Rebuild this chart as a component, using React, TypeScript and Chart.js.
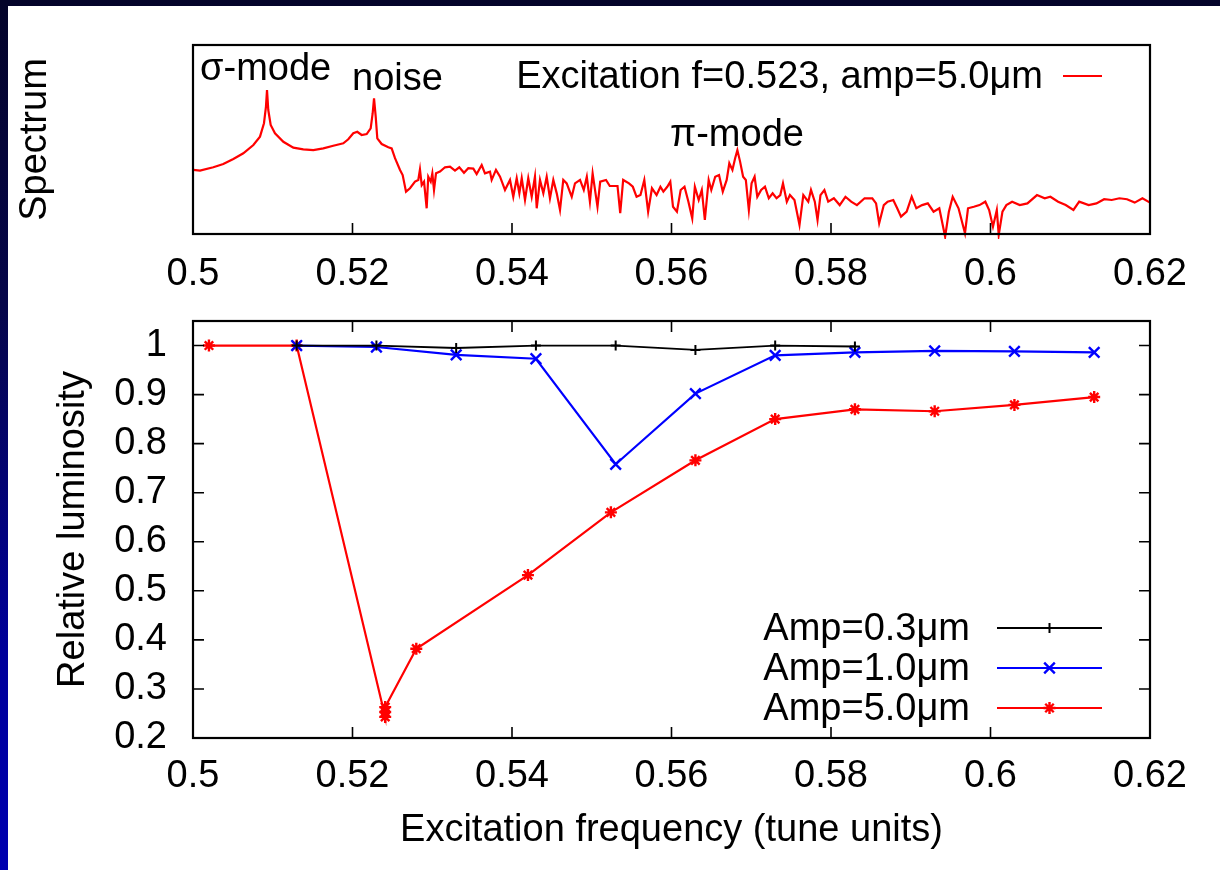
import React, { useEffect, useRef } from "react";
import { Chart, registerables } from "chart.js";
Chart.register(...registerables);

const FONT = '"Liberation Sans", Arial, Helvetica, sans-serif';
const FS = 38;

const xTickValues = [0.5, 0.52, 0.54, 0.56, 0.58, 0.6, 0.62];
const lumTickValues = [0.2, 0.3, 0.4, 0.5, 0.6, 0.7, 0.8, 0.9, 1];

// Spectrum (arbitrary units, 0 = bottom of panel, 100 = top)
const spectrumFreq = [
  0.50004, 0.50088, 0.50255, 0.5038, 0.50506, 0.50631, 0.50757, 0.5084, 0.5089, 0.50915,
  0.50928, 0.50944, 0.50974, 0.51028, 0.51133, 0.51258, 0.51383, 0.51509, 0.51634, 0.51759,
  0.51885, 0.51947, 0.5201, 0.5206, 0.52115, 0.52178, 0.52228, 0.52253, 0.5227, 0.52291,
  0.52311, 0.52366, 0.52449, 0.52491, 0.52533, 0.52596, 0.52629, 0.52671, 0.52721, 0.52784,
  0.52825, 0.52846, 0.52868, 0.52897, 0.5293, 0.5295, 0.52981, 0.53001, 0.53022, 0.53047,
  0.53097, 0.5316, 0.53223, 0.53285, 0.53339, 0.53398, 0.53452, 0.53515, 0.53557, 0.5362,
  0.53661, 0.53724, 0.53745, 0.53799, 0.5385, 0.53912, 0.53975, 0.54016, 0.54059, 0.54092,
  0.54122, 0.54163, 0.54204, 0.54247, 0.54288, 0.5431, 0.54351, 0.54393, 0.54435, 0.54476,
  0.54518, 0.54561, 0.54602, 0.54643, 0.54686, 0.54749, 0.5479, 0.54853,
  0.549, 0.54938, 0.54977, 0.55011, 0.55072, 0.55106, 0.55179, 0.55226, 0.55323, 0.55357,
  0.55394, 0.55467, 0.55515, 0.55562, 0.55611, 0.55659, 0.55707, 0.55755, 0.55813, 0.55861,
  0.55898, 0.55947, 0.55985, 0.56019, 0.56068, 0.56115, 0.56163, 0.56212, 0.5626, 0.56293,
  0.56341, 0.5638, 0.56418, 0.56466, 0.56499, 0.56548, 0.56596, 0.56643, 0.56692, 0.56725,
  0.56764, 0.56798, 0.56826, 0.5686, 0.56898, 0.56932, 0.5697, 0.57004, 0.57042, 0.57076,
  0.57124, 0.57172, 0.5722, 0.57268, 0.57317, 0.57364, 0.57398, 0.57446, 0.57485, 0.57542,
  0.57605, 0.57653, 0.57715, 0.57749, 0.57797, 0.57831, 0.57868, 0.57917, 0.57965, 0.58036,
  0.58109, 0.58181, 0.58253, 0.58325, 0.58421, 0.58518, 0.58565, 0.58604, 0.58662, 0.5871,
  0.58781, 0.5883, 0.58878, 0.58949, 0.59012, 0.5907, 0.59142, 0.59214, 0.59286, 0.59358,
  0.59431, 0.59478, 0.59526, 0.59599, 0.5968, 0.59718, 0.59791, 0.59862, 0.59935, 0.59983,
  0.60031, 0.60079, 0.60103, 0.6015, 0.60199, 0.60271, 0.60367, 0.60463, 0.60583, 0.6068,
  0.60751, 0.60848, 0.60943, 0.6104, 0.61112, 0.61231, 0.61328, 0.61425, 0.6152, 0.61616,
  0.61712, 0.61808, 0.61905, 0.62,
];
const spectrumLevel = [
  33.9, 33.5, 35.3, 37.0, 39.7, 42.7, 47.1, 51.5, 58.6, 67.4,
  76.2, 65.6, 57.7, 53.3, 48.8, 45.7, 44.8, 44.4, 45.3, 46.7,
  48.0, 50.1, 53.3, 54.1, 52.4, 52.9, 55.9, 63.9, 71.8, 62.1,
  50.6, 47.6, 45.9, 45.3, 40.1, 33.9, 31.2, 22.4, 24.2, 27.7,
  28.6, 34.2, 25.9, 27.7, 13.6, 30.3, 27.7, 32.1, 23.3, 32.1,
  33.0, 35.3, 35.6, 33.5, 35.3, 32.4, 34.8, 34.6, 31.7, 36.5,
  32.1, 33.0, 28.6, 33.9, 30.3, 23.3, 28.6, 19.7, 29.5, 21.5,
  29.5, 18.0, 29.5, 19.7, 30.3, 13.6, 28.6, 21.5, 30.3, 18.9,
  28.6, 21.5, 12.7, 28.6, 26.8, 19.7, 26.8, 28.6,
  23.3, 30.3, 17.1, 32.1, 14.4, 27.7, 28.6, 25.4, 25.4, 11.0,
  28.6, 26.8, 25.0, 19.7, 20.6, 28.6, 11.8, 24.2, 20.6, 25.0,
  22.4, 25.0, 27.7, 14.4, 11.8, 23.3, 25.0, 17.1, 8.3, 25.0,
  18.0, 23.3, 7.4, 28.6, 23.3, 30.3, 31.2, 22.4, 28.6, 37.4,
  33.9, 40.1, 44.4, 38.3, 30.3, 28.6, 12.7, 26.8, 30.3, 19.7,
  23.3, 25.0, 18.9, 21.5, 18.9, 20.6, 26.8, 17.1, 20.6, 18.0,
  4.8, 20.6, 17.1, 23.3, 17.1, 7.4, 20.6, 23.3, 17.1, 18.9,
  15.3, 19.7, 17.1, 15.3, 18.9, 18.9, 16.2, 5.7, 15.3, 17.1,
  18.0, 13.6, 9.2, 11.8, 19.7, 13.6, 15.3, 16.2, 11.8, 13.6,
  -1.4, 11.8, 19.7, 13.6, 0.4, 13.6, 14.4, 15.3, 17.1, 12.7,
  3.9, 12.7, -0.5, 11.8, 15.3, 17.1, 15.3, 16.2, 20.6, 18.9,
  19.7, 17.1, 15.3, 12.7, 17.1, 15.3, 16.2, 18.4, 18.0, 18.9,
  18.4, 16.6, 18.9, 16.6,
];

const amp03Freq = [0.513, 0.523, 0.533, 0.543, 0.553, 0.563, 0.573, 0.583];
const amp03Lum = [1.0, 1.0, 0.995, 1.0, 1.0, 0.991, 1.0, 0.998];

const amp10Freq = [0.513, 0.523, 0.533, 0.543, 0.553, 0.563, 0.573, 0.583, 0.593, 0.603, 0.613];
const amp10Lum = [1.0, 0.997, 0.981, 0.973, 0.758, 0.902, 0.98, 0.986, 0.989, 0.988, 0.986];

const amp50Freq = [0.502, 0.513, 0.5241, 0.5241, 0.5241, 0.528, 0.542, 0.5524, 0.563, 0.573, 0.583, 0.593, 0.603, 0.613];
const amp50Lum = [1.0, 1.0, 0.243, 0.253, 0.263, 0.382, 0.532, 0.66, 0.766, 0.85, 0.87, 0.866, 0.879, 0.895];

const seriesLabels = ["Amp=0.3\u03bcm", "Amp=1.0\u03bcm", "Amp=5.0\u03bcm"];
const spectrumLabel = "Excitation f=0.523, amp=5.0\u03bcm";

const annotations = [
  { text: "\u03c3-mode", x: 0.50088, y: 86.8 },
  { text: "noise", x: 0.51994, y: 81.5 },
  { text: "\u03c0-mode", x: 0.55981, y: 51.9 },
];

const zip = (xs: number[], ys: number[]) => xs.map((x, i) => ({ x, y: ys[i] }));

function drawMarker(ctx: CanvasRenderingContext2D, style: string, x: number, y: number, r: number) {
  ctx.beginPath();
  if (style === "cross" || style === "star") {
    ctx.moveTo(x - r, y); ctx.lineTo(x + r, y);
    ctx.moveTo(x, y - r); ctx.lineTo(x, y + r);
  }
  if (style === "crossRot" || style === "star") {
    const d = r * Math.SQRT1_2;
    ctx.moveTo(x - d, y - d); ctx.lineTo(x + d, y + d);
    ctx.moveTo(x - d, y + d); ctx.lineTo(x + d, y - d);
  }
  ctx.stroke();
}

const frameTicksPlugin = {
  id: "frameTicks",
  afterDatasetsDraw(chart: any, _args: any, opts: any) {
    const { ctx, chartArea: a, scales } = chart;
    const len = 11;
    ctx.save();
    ctx.strokeStyle = "#000";
    ctx.lineWidth = 1.6;
    ctx.beginPath();
    const xs = scales.x, ys = scales.y;
    for (const t of xs.ticks) {
      const px = xs.getPixelForValue(t.value);
      if (px <= a.left + 1 || px >= a.right - 1) continue;
      if (opts.bottom) { ctx.moveTo(px, a.bottom); ctx.lineTo(px, a.bottom - len); }
      if (opts.top) { ctx.moveTo(px, a.top); ctx.lineTo(px, a.top + len); }
    }
    if (opts.left || opts.right) {
      for (const t of ys.ticks) {
        const py = ys.getPixelForValue(t.value);
        if (py <= a.top + 1 || py >= a.bottom - 1) continue;
        if (opts.left) { ctx.moveTo(a.left, py); ctx.lineTo(a.left + len, py); }
        if (opts.right) { ctx.moveTo(a.right, py); ctx.lineTo(a.right - len, py); }
      }
    }
    ctx.stroke();
    ctx.lineWidth = 2.2;
    ctx.strokeRect(a.left, a.top, a.right - a.left, a.bottom - a.top);
    ctx.restore();
  },
};

const keyPlugin = {
  id: "keyBox",
  afterDraw(chart: any, _args: any, opts: any) {
    if (!opts || !opts.display) return;
    const { ctx, chartArea: a } = chart;
    ctx.save();
    ctx.font = `${FS}px ${FONT}`;
    ctx.textAlign = "right";
    ctx.textBaseline = "middle";
    chart.data.datasets.forEach((ds: any, i: number) => {
      const y = a.top + opts.firstRow + i * opts.rowHeight;
      const x2 = a.right - opts.lineRight;
      const x1 = x2 - opts.lineLength;
      ctx.fillStyle = "#000";
      ctx.fillText(ds.label, x1 - opts.gap, y + 2);
      ctx.strokeStyle = ds.borderColor;
      ctx.lineWidth = ds.borderWidth;
      ctx.beginPath();
      ctx.moveTo(x1, y);
      ctx.lineTo(x2, y);
      ctx.stroke();
      if (ds.pointRadius > 0) {
        ctx.lineWidth = ds.pointBorderWidth;
        drawMarker(ctx, ds.pointStyle, (x1 + x2) / 2, y, ds.pointRadius);
      }
    });
    ctx.restore();
  },
};

const annotationPlugin = {
  id: "textNotes",
  afterDraw(chart: any, _args: any, opts: any) {
    if (!opts || !opts.items) return;
    const { ctx, scales } = chart;
    ctx.save();
    ctx.font = `${FS}px ${FONT}`;
    ctx.fillStyle = "#000";
    ctx.textAlign = "left";
    ctx.textBaseline = "middle";
    for (const it of opts.items) {
      ctx.fillText(it.text, scales.x.getPixelForValue(it.x), scales.y.getPixelForValue(it.y));
    }
    ctx.restore();
  },
};

const tickFont = { family: FONT, size: FS };

function xScale(height: number, pad: number, title?: string, titlePad = 0) {
  return {
    type: "linear",
    min: 0.5,
    max: 0.62,
    afterBuildTicks: (s: any) => { s.ticks = xTickValues.map((v) => ({ value: v })); },
    afterFit: (s: any) => { s.height = height; s.paddingLeft = 0; s.paddingRight = 0; },
    grid: { display: false, drawTicks: false },
    border: { display: false },
    ticks: {
      autoSkip: false,
      maxRotation: 0,
      padding: pad,
      color: "#000",
      font: tickFont,
      callback: (v: any) => String(v),
    },
    title: title
      ? { display: true, text: title, color: "#000", font: tickFont, padding: { top: 0, bottom: titlePad } }
      : { display: false },
  };
}

export default function App() {
  const topRef = useRef<HTMLCanvasElement>(null);
  const botRef = useRef<HTMLCanvasElement>(null);

  useEffect(() => {
    const top = new Chart(topRef.current as HTMLCanvasElement, {
      type: "line",
      data: {
        datasets: [
          {
            label: spectrumLabel,
            data: zip(spectrumFreq, spectrumLevel),
            borderColor: "#ff0000",
            borderWidth: 2.2,
            pointRadius: 0,
            tension: 0,
            clip: 5,
          } as any,
        ],
      },
      options: {
        animation: false,
        responsive: false,
        devicePixelRatio: 1,
        layout: { padding: { left: 8, top: 45, right: 70, bottom: 0 } },
        plugins: {
          legend: { display: false },
          tooltip: { enabled: false },
          frameTicks: { bottom: true },
          keyBox: { display: true, firstRow: 31, rowHeight: 40, lineRight: 48, lineLength: 39, gap: 20 },
          textNotes: { items: annotations },
        } as any,
        scales: {
          x: xScale(66, 18) as any,
          y: {
            min: 0,
            max: 100,
            afterFit: (s: any) => { s.width = 185; s.paddingTop = 0; s.paddingBottom = 0; },
            grid: { display: false, drawTicks: false },
            border: { display: false },
            ticks: { display: false },
            title: { display: true, text: "Spectrum", color: "#000", font: tickFont, padding: { top: 5, bottom: 0 } },
          },
        },
      },
      plugins: [frameTicksPlugin, keyPlugin, annotationPlugin],
    });

    const bot = new Chart(botRef.current as HTMLCanvasElement, {
      type: "line",
      data: {
        datasets: [
          {
            label: seriesLabels[0],
            data: zip(amp03Freq, amp03Lum),
            borderColor: "#000000",
            backgroundColor: "#000000",
            borderWidth: 1.8,
            pointStyle: "cross",
            pointRadius: 5,
            pointBorderWidth: 2,
            tension: 0,
          },
          {
            label: seriesLabels[1],
            data: zip(amp10Freq, amp10Lum),
            borderColor: "#0000ff",
            backgroundColor: "#0000ff",
            borderWidth: 2.2,
            pointStyle: "crossRot",
            pointRadius: 7.5,
            pointBorderWidth: 2.4,
            tension: 0,
          },
          {
            label: seriesLabels[2],
            data: zip(amp50Freq, amp50Lum),
            borderColor: "#ff0000",
            backgroundColor: "#ff0000",
            borderWidth: 2.2,
            pointStyle: "star",
            pointRadius: 6,
            pointBorderWidth: 2.4,
            tension: 0,
          },
        ] as any,
      },
      options: {
        animation: false,
        responsive: false,
        devicePixelRatio: 1,
        layout: { padding: { left: 8, top: 31, right: 70, bottom: 0 } },
        plugins: {
          legend: { display: false },
          tooltip: { enabled: false },
          frameTicks: { bottom: true, top: true, left: true, right: true },
          keyBox: { display: true, firstRow: 307, rowHeight: 40, lineRight: 48, lineLength: 105, gap: 27 },
        } as any,
        scales: {
          x: xScale(132, 16, "Excitation frequency (tune units)", 17) as any,
          y: {
            min: 0.2,
            max: 1.05,
            afterBuildTicks: (s: any) => { s.ticks = lumTickValues.map((v) => ({ value: v })); },
            afterFit: (s: any) => { s.width = 185; s.paddingTop = 0; s.paddingBottom = 0; },
            grid: { display: false, drawTicks: false },
            border: { display: false },
            ticks: { autoSkip: false, padding: 26, color: "#000", font: tickFont, callback: (v: any) => String(v) },
            title: { display: true, text: "Relative luminosity", color: "#000", font: tickFont, padding: { top: 43, bottom: 0 } },
          },
        },
      },
      plugins: [frameTicksPlugin, keyPlugin],
    });

    return () => {
      top.destroy();
      bot.destroy();
    };
  }, []);

  return (
    <div
      style={{
        position: "fixed",
        left: 0,
        top: 0,
        width: 1220,
        height: 870,
        overflow: "hidden",
        background: "linear-gradient(to bottom, #04042a 0%, #06064a 35%, #00009a 75%, #0000b0 100%)",
      }}
    >
      <div style={{ position: "absolute", left: 8, top: 6, width: 1212, height: 864, background: "#ffffff" }} />
      <canvas ref={topRef} width={1220} height={300} style={{ position: "absolute", left: 0, top: 0, width: 1220, height: 300 }} />
      <canvas ref={botRef} width={1220} height={580} style={{ position: "absolute", left: 0, top: 290, width: 1220, height: 580 }} />
    </div>
  );
}
